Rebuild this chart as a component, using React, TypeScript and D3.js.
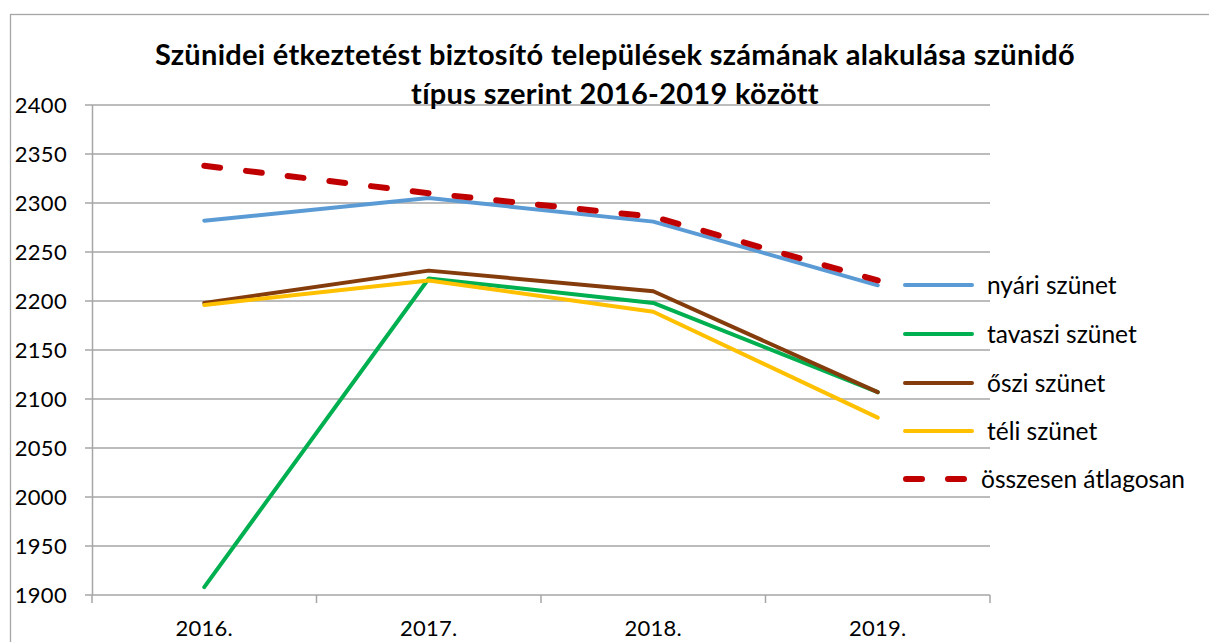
import React from "react";
import * as d3 from "d3";

const categories = ["2016.", "2017.", "2018.", "2019."];
const nyari = [2282, 2305, 2281, 2216];
const tavaszi = [1908, 2223, 2198, 2107];
const oszi = [2198, 2231, 2210, 2107];
const teli = [2196, 2221, 2189, 2081];
const osszesen = [2338, 2310, 2286, 2221];
const yTicks = [1900, 1950, 2000, 2050, 2100, 2150, 2200, 2250, 2300, 2350, 2400];

const series = [
  { name: "nyári szünet", values: nyari, color: "#5B9BD5", dash: false },
  { name: "tavaszi szünet", values: tavaszi, color: "#00B050", dash: false },
  { name: "őszi szünet", values: oszi, color: "#843C0C", dash: false },
  { name: "téli szünet", values: teli, color: "#FFC000", dash: false },
  { name: "összesen átlagosan", values: osszesen, color: "#C00000", dash: true },
];

const W = 1209;
const H = 642;
const FONT = "Lato, 'Open Sans', sans-serif";

export default function App() {
  const x = d3.scaleBand().domain(categories).range([92, 990]);
  const y = d3.scaleLinear().domain([1900, 2400]).range([595, 105]);
  const line = d3
    .line<number>()
    .x((_, i) => (x(categories[i]) as number) + x.bandwidth() / 2)
    .y((d) => y(d));
  const legendY = [285, 334, 383, 431, 479];
  return (
    <svg
      width={W}
      height={H}
      style={{ position: "absolute", left: 0, top: 0, background: "#fff" }}
      fontFamily={FONT}
    >
      <rect x={10.5} y={14.5} width={W} height={H} fill="#fff" stroke="#A6A6A6" strokeWidth={1.3} />
      {yTicks.map((t) => (
        <g key={t}>
          <line x1={85} x2={990} y1={y(t)} y2={y(t)} stroke="#A6A6A6" strokeWidth={1.5} />
          <text x={67} y={y(t)} dy="0.36em" textAnchor="end" fontSize={22} letterSpacing={0.3} fill="#000">
            {t}
          </text>
        </g>
      ))}
      <line x1={92.5} x2={92.5} y1={105} y2={595} stroke="#A6A6A6" strokeWidth={1.5} />
      {[...categories.map((c) => x(c) as number), 990].map((v, i) => (
        <line key={i} x1={v} x2={v} y1={595} y2={603} stroke="#A6A6A6" strokeWidth={1.5} />
      ))}
      {categories.map((c) => (
        <text
          key={c}
          x={(x(c) as number) + x.bandwidth() / 2}
          y={636}
          textAnchor="middle"
          fontSize={22}
          letterSpacing={0.3}
          fill="#000"
        >
          {c}
        </text>
      ))}
      {series.map((s) => (
        <path
          key={s.name}
          d={line(s.values) || ""}
          fill="none"
          stroke={s.color}
          strokeWidth={s.dash ? 6 : 4}
          strokeLinecap="round"
          strokeLinejoin="round"
          strokeDasharray={s.dash ? "16 26" : undefined}
        />
      ))}
      <text x={615} y={65} textAnchor="middle" fontSize={29} letterSpacing={0.3} fontWeight="bold" fill="#000">
        Szünidei étkeztetést biztosító települések számának alakulása szünidő
      </text>
      <text x={615} y={104} textAnchor="middle" fontSize={29} letterSpacing={0.3} fontWeight="bold" fill="#000">
        típus szerint 2016-2019 között
      </text>
      {series.map((s, i) => (
        <g key={s.name}>
          <line
            x1={s.dash ? 906 : 905}
            x2={s.dash ? 966 : 972}
            y1={legendY[i]}
            y2={legendY[i]}
            stroke={s.color}
            strokeWidth={s.dash ? 6 : 4}
            strokeLinecap="round"
            strokeDasharray={s.dash ? "16 26" : undefined}
          />
          <text x={s.dash ? 981 : 987} y={legendY[i]} dy="0.35em" fontSize={24.5} fill="#000">
            {s.name}
          </text>
        </g>
      ))}
    </svg>
  );
}
